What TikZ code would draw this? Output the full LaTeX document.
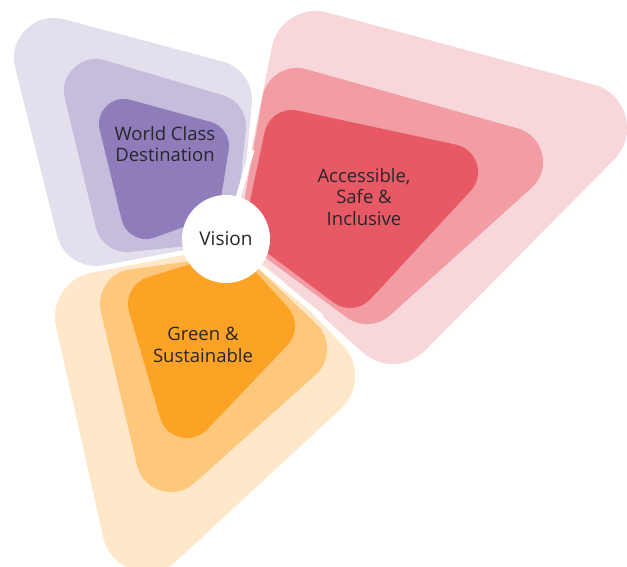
\documentclass[tikz,border=0pt]{standalone}
\usepackage{fontspec}
\setmainfont{Open Sans}
\definecolor{lilacout}{RGB}{227,223,237}
\definecolor{lilacmid}{RGB}{198,189,221}
\definecolor{lilacin}{RGB}{143,124,187}
\definecolor{roseout}{RGB}{248,215,218}
\definecolor{rosemid}{RGB}{241,157,163}
\definecolor{rosein}{RGB}{231,90,101}
\definecolor{amberout}{RGB}{254,232,201}
\definecolor{ambermid}{RGB}{254,200,124}
\definecolor{amberin}{RGB}{252,162,36}
\definecolor{inkdark}{RGB}{40,38,42}
\tikzset{
  petal/.style 2 args={fill=#1, draw=#1, line width=#2, line join=round},
  petaltext/.style={text=inkdark, align=center,
    font=\fontsize{18.5}{21.5}\selectfont},
  hub/.style={circle, fill=white, minimum size=88pt, inner sep=0pt,
    text=inkdark, font=\fontsize{19}{22}\selectfont},
  gap/.style={white, line width=5pt}
}

\begin{document}
\begin{tikzpicture}[x=1pt, y=-1pt]
  \useasboundingbox (0,0) rectangle (627,567);
  % World Class Destination
  \filldraw[petal={lilacout}{80pt}] (54,58) -- (212,100) -- (202,206) -- (96,226) -- cycle;
  \filldraw[petal={lilacmid}{64pt}] (96,91) -- (214,126) -- (205,212) -- (127,220) -- cycle;
  \filldraw[petal={lilacin}{50pt}] (124,124) -- (204,146) -- (196,196) -- (146,214) -- cycle;
  % Accessible, Safe & Inclusive
  \filldraw[petal={roseout}{90pt}] (316,56) -- (582,128) -- (393,319) -- (283,221) -- cycle;
  \filldraw[petal={rosemid}{70pt}] (297,103) -- (508,162) -- (367,289) -- (276,222) -- cycle;
  \filldraw[petal={rosein}{56pt}] (292,138) -- (450,172) -- (350,280) -- (274,223) -- cycle;
  % Green & Sustainable
  \filldraw[petal={amberout}{90pt}] (100,317) -- (229,292) -- (310,376) -- (147,527) -- cycle;
  \filldraw[petal={ambermid}{70pt}] (135,304) -- (231,291) -- (292,349) -- (171,457) -- cycle;
  \filldraw[petal={amberin}{56pt}] (156,304) -- (227,282) -- (267,326) -- (187,410) -- cycle;
  % white gaps between petals
  \coordinate (hubc) at (226,239);
  \draw[gap] (hubc) -- (252,150);
  \draw[gap] (hubc) -- (322,317);
  % labels
  \node (world) [petaltext] at (165,144) {World Class\\Destination};
  \node (access) [petaltext] at (364,197) {Accessible,\\Safe \&\\Inclusive};
  \node (green) [petaltext] at (203,345) {Green \&\\Sustainable};
  \node (vision) [hub] at (hubc) {Vision};
\end{tikzpicture}
\end{document}
